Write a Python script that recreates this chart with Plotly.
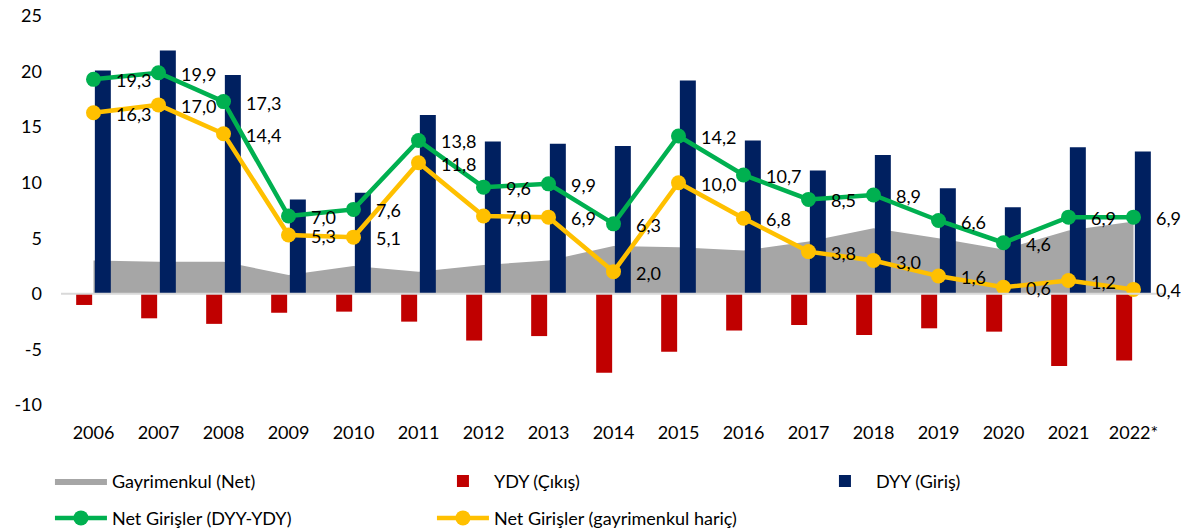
import plotly.graph_objects as go

years = ["2006", "2007", "2008", "2009", "2010", "2011", "2012", "2013", "2014",
         "2015", "2016", "2017", "2018", "2019", "2020", "2021", "2022*"]
gayrimenkul_net = [3.0, 2.9, 2.9, 1.7, 2.5, 2.0, 2.6, 3.0, 4.3, 4.2, 3.9, 4.7, 5.9, 5.0, 4.0, 5.7, 6.5]
ydy_cikis = [-1.0, -2.2, -2.7, -1.7, -1.6, -2.5, -4.2, -3.8, -7.1, -5.2, -3.3, -2.8, -3.7, -3.1, -3.4, -6.5, -6.0]
dyy_giris = [20.1, 21.9, 19.7, 8.5, 9.1, 16.1, 13.7, 13.5, 13.3, 19.2, 13.8, 11.1, 12.5, 9.5, 7.8, 13.2, 12.8]
net_girisler = [19.3, 19.9, 17.3, 7.0, 7.6, 13.8, 9.6, 9.9, 6.3, 14.2, 10.7, 8.5, 8.9, 6.6, 4.6, 6.9, 6.9]
net_girisler_gh = [16.3, 17.0, 14.4, 5.3, 5.1, 11.8, 7.0, 6.9, 2.0, 10.0, 6.8, 3.8, 3.0, 1.6, 0.6, 1.2, 0.4]

y_tickvals = [-10, -5, 0, 5, 10, 15, 20, 25]
y_ticktext = ["-10", "-5", "0", "5", "10", "15", "20", "25"]

FONT = "Lato, 'Open Sans', sans-serif"
TXT = dict(family=FONT, size=18, color="#000000")


def fmt(v):
    return f"{v:.1f}".replace(".", ",")


fig = go.Figure()

# area (main subplot, drawn underneath the bars and lines)
fig.add_trace(go.Scatter(
    x=years, y=gayrimenkul_net, name="Gayrimenkul (Net)", mode="lines",
    fill="tozeroy", fillcolor="#A6A6A6", line=dict(color="#A6A6A6", width=0),
    legend="legend", xaxis="x", yaxis="y", hoverinfo="skip"))

fig.add_trace(go.Bar(
    x=years, y=ydy_cikis, name="YDY (Çıkış)", marker=dict(color="#C00000", line_width=0),
    legend="legend", xaxis="x2", yaxis="y2"))
fig.add_trace(go.Bar(
    x=years, y=dyy_giris, name="DYY (Giriş)", marker=dict(color="#002060", line_width=0),
    legend="legend", legendwidth=120, xaxis="x2", yaxis="y2"))

fig.add_trace(go.Scatter(
    x=years, y=net_girisler, name="Net Girişler (DYY-YDY)", mode="lines+markers",
    line=dict(color="#00B050", width=4.5), marker=dict(color="#00B050", size=15),
    legend="legend2", xaxis="x2", yaxis="y2"))
fig.add_trace(go.Scatter(
    x=years, y=net_girisler_gh, name="Net Girişler (gayrimenkul hariç)", mode="lines+markers",
    line=dict(color="#FFC000", width=4.5), marker=dict(color="#FFC000", size=15),
    legend="legend2", legendwidth=280, xaxis="x2", yaxis="y2"))

annotations = []
for series in (net_girisler, net_girisler_gh):
    for i, v in enumerate(series):
        annotations.append(dict(x=i, y=v, xref="x", yref="y", text=fmt(v),
                                showarrow=False, xanchor="left", yanchor="middle",
                                xshift=20, yshift=-1, font=TXT))

xr = [-0.5, len(years) - 0.5]
yr = [-10, 25]

fig.update_layout(
    width=1181, height=531,
    margin=dict(l=61, r=15, t=16, b=126, autoexpand=False),
    paper_bgcolor="white", plot_bgcolor="white",
    font=TXT,
    barmode="group", bargap=0.425, bargroupgap=0.145,
    showlegend=True,
    xaxis=dict(type="category", categoryorder="array", categoryarray=years, range=xr,
               showgrid=False, zeroline=False, showline=False, ticks="",
               tickfont=TXT, ticklabelstandoff=15),
    yaxis=dict(range=yr, tickvals=y_tickvals, ticktext=y_ticktext, showgrid=False,
               zeroline=False, showline=False, ticks="", tickfont=TXT, ticklabelstandoff=18),
    xaxis2=dict(type="category", categoryorder="array", categoryarray=years, range=xr,
                overlaying="x", visible=False),
    yaxis2=dict(range=yr, overlaying="y", visible=False),
    legend=dict(orientation="h", xref="paper", yref="paper", x=-0.01,
                y=-0.196, xanchor="left", yanchor="middle",
                entrywidthmode="pixels", entrywidth=315, itemwidth=52,
                font=TXT, bgcolor="rgba(0,0,0,0)"),
    legend2=dict(orientation="h", xref="paper", yref="paper", x=-0.01,
                 y=-0.291, xanchor="left", yanchor="middle",
                 entrywidthmode="pixels", entrywidth=315, itemwidth=52,
                 font=TXT, bgcolor="rgba(0,0,0,0)"),
    annotations=annotations,
    shapes=[dict(type="line", xref="paper", yref="y", x0=0, x1=1, y0=0, y1=0,
                 line=dict(color="#D9D9D9", width=2), layer="above")],
)

fig.write_html("out.html", config={"displayModeBar": False},
               post_script="document.body.style.margin='0';document.body.style.overflow='hidden';")
